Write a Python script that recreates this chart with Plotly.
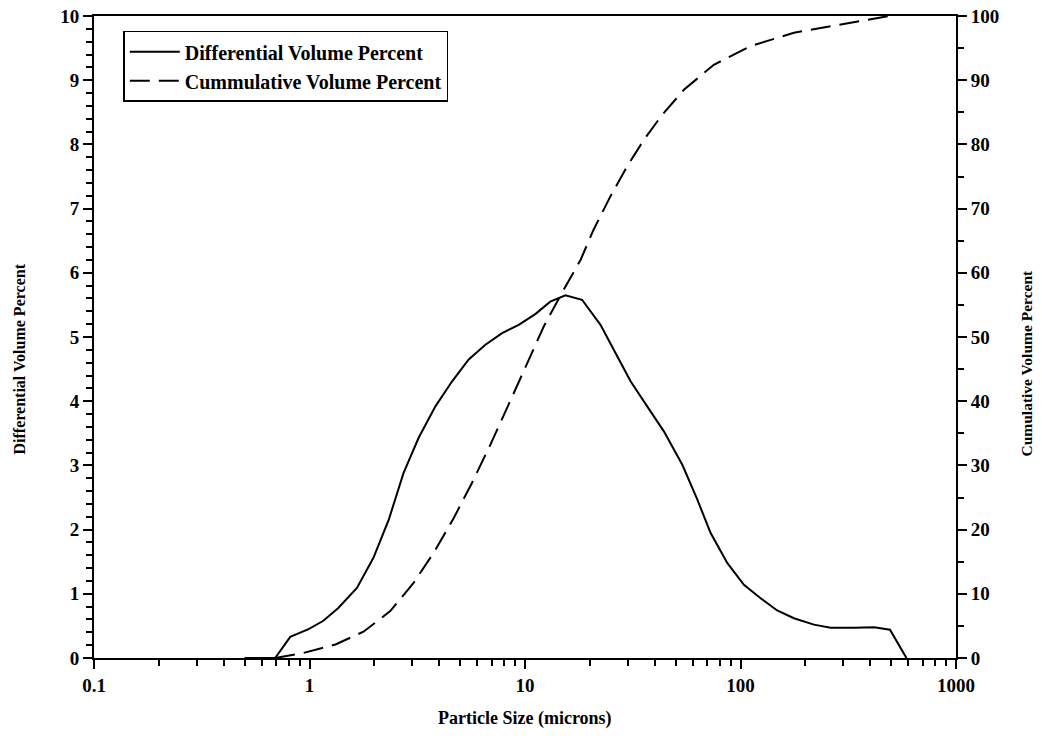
import plotly.graph_objects as go

# Differential volume percent (left axis)
diff_x = [0.50, 0.693, 0.814, 0.99, 1.16, 1.36, 1.66, 1.98, 2.33, 2.73, 3.21, 3.84, 4.59, 5.48,
          6.55, 7.83, 9.35, 11.2, 13.1, 15.4, 18.4, 22.4, 26.3, 30.9, 36.9, 44.1, 53.7, 63.0,
          72.6, 86.8, 103.7, 124, 148, 177, 219, 262, 336, 417, 494, 589]
diff_y = [0.0, 0.0, 0.33, 0.45, 0.58, 0.78, 1.09, 1.56, 2.15, 2.88, 3.43, 3.92, 4.31, 4.65,
          4.88, 5.06, 5.19, 5.36, 5.55, 5.65, 5.58, 5.19, 4.75, 4.31, 3.92, 3.53, 3.01, 2.47,
          1.95, 1.48, 1.14, 0.93, 0.74, 0.62, 0.52, 0.47, 0.47, 0.48, 0.44, 0.0]

# Cumulative volume percent (right axis)
cum_x = [0.693, 0.94, 1.32, 1.78, 2.37, 3.04, 3.77, 4.67, 5.68, 6.90, 8.40, 10.2, 12.2, 14.8,
         18.1, 20.8, 24.9, 29.8, 35.6, 43.3, 54.6, 75.2, 111, 177, 272, 417, 489]
cum_y = [0.0, 0.8, 2.1, 4.1, 7.3, 11.7, 16.4, 21.8, 27.3, 33.2, 39.5, 45.7, 51.6, 56.8,
         62.0, 66.7, 71.9, 76.6, 80.7, 84.6, 88.5, 92.4, 95.3, 97.4, 98.5, 99.7, 100.0]

x_tickvals = [0.1, 1, 10, 100, 1000]
x_ticktext = ["0.1", "1", "10", "100", "1000"]

FONT = "Liberation Serif"
TICKFONT = dict(family=FONT, size=19, color="black", weight="bold")

fig = go.Figure()
fig.add_trace(go.Scatter(x=diff_x, y=diff_y, mode="lines", name="Differential Volume Percent",
                         line=dict(color="black", width=2)))
fig.add_trace(go.Scatter(x=cum_x, y=cum_y, mode="lines", name="Cummulative Volume Percent",
                         yaxis="y2", line=dict(color="black", width=2, dash="20px,9px")))

fig.update_layout(
    width=1042, height=743,
    margin=dict(l=86, r=94, t=8, b=93, autoexpand=False),
    plot_bgcolor="white", paper_bgcolor="white",
    font=dict(family=FONT, color="black", size=16),
    showlegend=True,
    legend=dict(x=0.034, y=0.977, xanchor="left", yanchor="top",
                bgcolor="white", bordercolor="black", borderwidth=1.5,
                font=dict(family=FONT, size=20, color="black", weight="bold"),
                tracegroupgap=0, itemwidth=50),
    xaxis=dict(type="log", range=[-1, 3], tickvals=x_tickvals, ticktext=x_ticktext,
               automargin=False, ticklabeloverflow="allow",
               showgrid=False, zeroline=False, showline=True, linecolor="black", linewidth=2,
               mirror=True, ticks="outside", ticklen=9, tickwidth=1.5, tickcolor="black",
               minor=dict(ticks="outside", ticklen=6, tickwidth=1.5, tickcolor="black",
                          dtick="D1", showgrid=False),
               tickfont=TICKFONT),
    yaxis=dict(range=[0, 10], dtick=1, showgrid=False, zeroline=False, showline=True,
               automargin=False, ticklabeloverflow="allow",
               linecolor="black", linewidth=2, ticks="outside", ticklen=9, tickwidth=1.5,
               tickcolor="black",
               minor=dict(ticks="outside", ticklen=6, tickwidth=1.5, tickcolor="black", dtick=0.2),
               tickfont=TICKFONT),
    yaxis2=dict(range=[0, 100], dtick=10, overlaying="y", side="right", showgrid=False,
                automargin=False, ticklabeloverflow="allow",
                zeroline=False, showline=True, linecolor="black", linewidth=2,
                ticks="outside", ticklen=9, tickwidth=1.5, tickcolor="black",
                minor=dict(ticks="outside", ticklen=6, tickwidth=1.5, tickcolor="black", dtick=5),
                tickfont=TICKFONT),
    annotations=[
        dict(text="<b>Particle Size (microns)</b>", xref="paper", yref="paper", x=0.5, y=0,
             yshift=-73, showarrow=False, font=dict(family=FONT, size=18)),
        dict(text="<b>Differential Volume Percent</b>", xref="paper", yref="paper", x=0, y=0.5,
             xshift=-86, yshift=-22, textangle=-90, showarrow=False, font=dict(family=FONT, size=16)),
        dict(text="<b>Cumulative Volume Percent</b>", xref="paper", yref="paper", x=1, y=0.5,
             xshift=80, yshift=-26, textangle=-90, showarrow=False, font=dict(family=FONT, size=15.5)),
    ],
)

fig.write_html("out.html")
